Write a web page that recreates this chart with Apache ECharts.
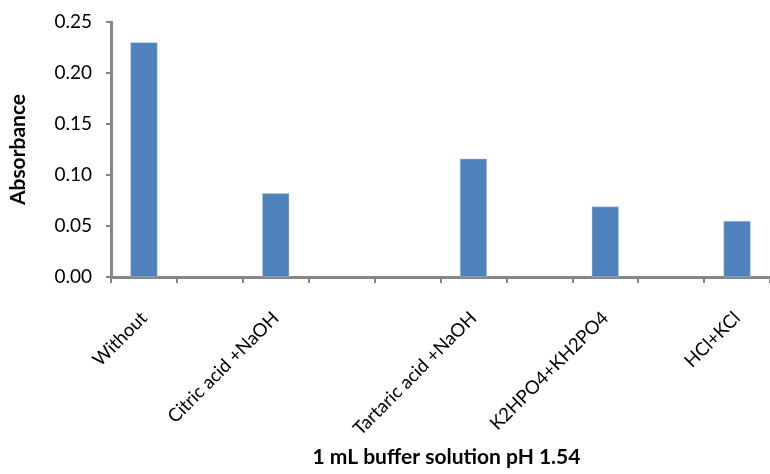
<!DOCTYPE html>
<html>
<head>
<meta charset="utf-8">
<script src="https://cdn.jsdelivr.net/npm/echarts@6/dist/echarts.min.js"></script>
<style>html,body{margin:0;padding:0;background:#fff}#c{width:770px;height:474px}</style>
</head>
<body>
<div id="c"></div>
<script>
const categories = ["Without", "", "Citric acid +NaOH", "", "", "Tartaric acid +NaOH", "", "K2HPO4+KH2PO4", "", "HCl+KCl"];
const absorbance = [0.230, null, 0.082, null, null, 0.116, null, 0.069, null, 0.055];
const yTicks = { min: 0, max: 0.25, interval: 0.05 };
const xTitle = "1 mL buffer solution pH 1.54";
const yTitle = "Absorbance";

const chart = echarts.init(document.getElementById('c'), null, { renderer: 'canvas' });
const font = 'Lato, "Open Sans", sans-serif';
chart.setOption({
  animation: false,
  backgroundColor: '#ffffff',
  grid: { left: 111, top: 22, bottom: 197, right: -9, containLabel: false },
  xAxis: {
    type: 'category',
    data: categories,
    name: xTitle,
    nameLocation: 'middle',
    nameGap: 170,
    nameTextStyle: { fontFamily: font, fontWeight: 'bold', fontSize: 21, color: '#000', padding: [0, 0, 0, 12] },
    axisLine: { lineStyle: { color: '#868686', width: 3 } },
    axisTick: { show: true, length: 6, interval: 0, lineStyle: { color: '#868686', width: 2 } },
    axisLabel: { interval: 0, rotate: 45, margin: 38, fontFamily: font, fontSize: 18.5, color: '#000' },
    splitLine: { show: false }
  },
  yAxis: {
    type: 'value',
    min: yTicks.min, max: yTicks.max, interval: yTicks.interval,
    name: yTitle,
    nameLocation: 'middle',
    nameGap: 82,
    nameRotate: 90,
    nameTextStyle: { fontFamily: font, fontWeight: 'bold', fontSize: 21, color: '#000' },
    axisLine: { show: true, lineStyle: { color: '#868686', width: 3 } },
    axisTick: { show: true, length: 5, lineStyle: { color: '#868686', width: 2 } },
    axisLabel: { fontFamily: font, fontSize: 19, color: '#000', margin: 19, formatter: v => v.toFixed(2) },
    splitLine: { show: false }
  },
  series: [{
    type: 'bar',
    data: absorbance,
    barWidth: 27,
    itemStyle: { color: '#4f81bd', borderColor: '#b9cde5', borderWidth: 0.5 }
  }]
});
</script>
</body>
</html>
